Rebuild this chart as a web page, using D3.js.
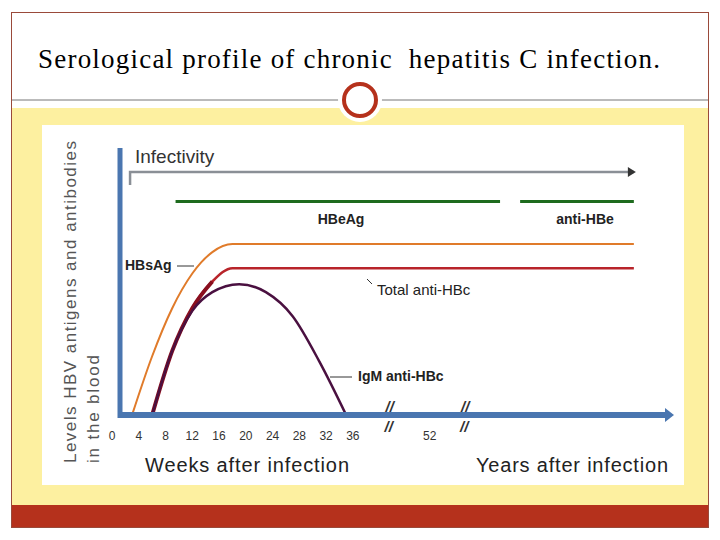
<!DOCTYPE html>
<html><head><meta charset="utf-8">
<script src="https://cdn.jsdelivr.net/npm/d3@7"></script>
<style>body{margin:0;background:#fff}svg{display:block}</style>
</head><body><svg id="vis"></svg>
<script>
"use strict";

// x position units: weeks 0-36, then a compressed years section
var tickLabels = ["0", "4", "8", "12", "16", "20", "24", "28", "32", "36", "52"];
var tickPos = [0, 4, 8, 12, 16, 20, 24, 28, 32, 36, 47.5];
var hbsag = [[3,0],[6,22],[9,40],[12,53],[15,61],[18,64],[24,64],[78,64]];
var totalAntiHBc = [[6,0],[9,24],[12,40],[15,50],[18,55],[24,55],[78,55]];
var igmAntiHBc = [[6,0],[9,24],[12,39],[15,46],[19,49],[23,46],[27,37],[31,20],[35,0]];
var hbeag = [9.5, 58];
var antiHBe = [61, 78];
var infectivity = [2.7, 78];
var breaks = [41.5, 52.8];

var svg = d3.select("#vis").attr("width", 720).attr("height", 540);

// slide frame
svg.append("rect").attr("x", 11.5).attr("y", 12.5).attr("width", 697).attr("height", 515)
	.attr("fill", "#fff").attr("stroke", "#9a4a3a");
svg.append("text").attr("x", 38).attr("y", 68).attr("xml:space", "preserve").style("white-space", "pre")
	.attr("font-family", "Liberation Serif, serif").attr("font-size", 27).attr("textLength", 622)
	.text("Serological profile of chronic  hepatitis C infection.");
svg.append("rect").attr("x", 12).attr("y", 108).attr("width", 696).attr("height", 397).attr("fill", "#fdf0a0");
svg.append("rect").attr("x", 12).attr("y", 505).attr("width", 696).attr("height", 22).attr("fill", "#b5311c");
svg.append("line").attr("x1", 12).attr("x2", 708).attr("y1", 100).attr("y2", 100).attr("stroke", "#777");
svg.append("circle").attr("cx", 360).attr("cy", 100).attr("r", 22).attr("fill", "#fff");
svg.append("circle").attr("cx", 360).attr("cy", 100).attr("r", 16).attr("fill", "#fff")
	.attr("stroke", "#b5311c").attr("stroke-width", 4);

// chart panel
svg.append("rect").attr("x", 42).attr("y", 125).attr("width", 642).attr("height", 360).attr("fill", "#fff");

var x = d3.scaleLinear().domain([0, 84]).range([112, 674]);
var y = d3.scaleLinear().domain([0, 100]).range([415, 148]);
var font = "Liberation Sans, Arial, sans-serif";

var g = svg.append("g");

// curves
var line = d3.line().x(function (d) { return x(d[0]); }).y(function (d) { return y(d[1]); })
	.curve(d3.curveMonotoneX);
g.append("path").attr("d", line(hbsag)).attr("fill", "none").attr("stroke", "#e07b2a").attr("stroke-width", 2);
g.append("path").attr("d", line(totalAntiHBc)).attr("fill", "none").attr("stroke", "#b8242a").attr("stroke-width", 2.5);
g.append("path").attr("d", line(totalAntiHBc.slice(0, 4))).attr("fill", "none").attr("stroke", "#8a0f1f").attr("stroke-width", 4);
g.append("path").attr("d", line(igmAntiHBc)).attr("fill", "none").attr("stroke", "#4a1040").attr("stroke-width", 2.5);

// green bars
[hbeag, antiHBe].forEach(function (r) {
	g.append("line").attr("x1", x(r[0])).attr("x2", x(r[1])).attr("y1", y(80)).attr("y2", y(80))
		.attr("stroke", "#1e6b1e").attr("stroke-width", 3);
});

// infectivity arrow
g.append("path").attr("d", "M" + x(infectivity[0]) + "," + (y(91) + 13) + "V" + y(91) + "H" + x(infectivity[1]))
	.attr("fill", "none").attr("stroke", "#8a8f96").attr("stroke-width", 2.5);
g.append("path").attr("d", "M" + (x(infectivity[1]) - 6) + "," + (y(91) - 5) + "l8,5l-8,5z").attr("fill", "#333");

// axes
g.append("line").attr("x1", 120).attr("x2", 120).attr("y1", y(100)).attr("y2", y(0) + 3)
	.attr("stroke", "#4a76b0").attr("stroke-width", 5);
g.append("line").attr("x1", 118).attr("x2", 665).attr("y1", y(0)).attr("y2", y(0))
	.attr("stroke", "#4a76b0").attr("stroke-width", 6);
g.append("path").attr("d", "M665," + (y(0) - 7) + "l9,7l-9,7z").attr("fill", "#4a76b0");

g.selectAll(".tick").data(tickLabels).enter().append("text")
	.attr("x", function (d, i) { return x(tickPos[i]); }).attr("y", 440)
	.attr("text-anchor", "middle").attr("font-family", font).attr("font-size", 12).attr("fill", "#333")
	.text(function (d) { return d; });

breaks.forEach(function (b) {
	g.append("text").attr("x", x(b)).attr("y", y(0) - 3).attr("text-anchor", "middle")
		.attr("font-family", font).attr("font-size", 15).attr("font-style", "italic").attr("font-weight", "bold")
		.attr("fill", "#333").text("//");
	g.append("text").attr("x", x(b) - 1).attr("y", y(0) + 17).attr("text-anchor", "middle")
		.attr("font-family", font).attr("font-size", 15).attr("font-style", "italic").attr("font-weight", "bold")
		.attr("fill", "#333").text("//");
});

// labels
function label(t, lx, ly, size, anchor) {
	return g.append("text").attr("x", lx).attr("y", ly).attr("font-family", font)
		.attr("font-size", size).attr("text-anchor", anchor || "start").attr("fill", "#222").text(t);
}
label("Infectivity", 135, 163, 19).attr("fill", "#333");
label("HBeAg", 341, 224, 14, "middle").attr("font-weight", "bold");
label("anti-HBe", 585, 224, 14, "middle").attr("font-weight", "bold");
label("HBsAg", 125, 270, 14).attr("font-weight", "bold");
g.append("line").attr("x1", 177).attr("x2", 194).attr("y1", 266).attr("y2", 266).attr("stroke", "#333");
label("Total anti-HBc", 377, 295, 15);
g.append("line").attr("x1", 367).attr("x2", 372).attr("y1", 279).attr("y2", 284).attr("stroke", "#333");
label("IgM anti-HBc", 358, 381, 14).attr("font-weight", "bold");
g.append("line").attr("x1", 330).attr("x2", 352).attr("y1", 377).attr("y2", 377).attr("stroke", "#333");
label("Weeks after infection", 145, 472, 20).attr("textLength", 204);
label("Years after infection", 476, 472, 20).attr("textLength", 192);

label("Levels HBV antigens and antibodies", 0, 0, 17)
	.attr("transform", "translate(76,463) rotate(-90)").attr("textLength", 322).attr("fill", "#555");
label("in the blood", 0, 0, 17)
	.attr("transform", "translate(99,463) rotate(-90)").attr("textLength", 108).attr("fill", "#555");
</script></body></html>
